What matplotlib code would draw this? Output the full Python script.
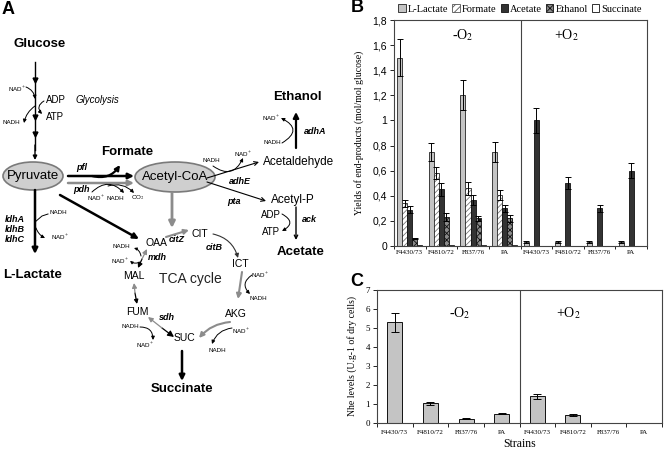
import numpy as np
import matplotlib
matplotlib.use("Agg")
import matplotlib.pyplot as plt
from matplotlib.patches import Ellipse, Patch

plt.rcParams['font.family'] = ['Liberation Serif', 'DejaVu Serif']
plt.rcParams['mathtext.fontset'] = 'stix'
plt.rcParams['hatch.linewidth'] = 0.6

SANS = 'Liberation Sans'

# ---- data (panel B: yields, panel C: Nhe levels) ----
strains = ["F4430/73", "F4810/72", "F837/76", "PA"] * 2
products = ["L-Lactate", "Formate", "Acetate", "Ethanol", "Succinate"]

lactate = [1.50, 0.75, 1.20, 0.75, 0.03, 0.03, 0.03, 0.03]
lactate_err = [0.15, 0.07, 0.12, 0.08, 0.006, 0.006, 0.006, 0.006]
formate = [0.34, 0.58, 0.46, 0.41, 0, 0, 0, 0]
formate_err = [0.03, 0.05, 0.05, 0.04, 0, 0, 0, 0]
acetate = [0.29, 0.45, 0.37, 0.30, 1.00, 0.50, 0.30, 0.60]
acetate_err = [0.03, 0.05, 0.04, 0.03, 0.10, 0.05, 0.03, 0.06]
ethanol = [0.06, 0.23, 0.22, 0.22, 0, 0, 0, 0]
ethanol_err = [0.005, 0.03, 0.02, 0.03, 0, 0, 0, 0]
succinate = [0.005, 0.005, 0.005, 0.005, 0, 0, 0, 0]

nhe = [5.3, 1.05, 0.22, 0.5, 1.4, 0.42, 0, 0]
nhe_err = [0.5, 0.08, 0.03, 0.04, 0.13, 0.04, 0, 0]

fig = plt.figure(figsize=(6.64, 4.51), dpi=100)

# ---------------- panel A: pathway diagram (pixel coords) ----------------
axA = fig.add_axes([0, 0, 1, 1])
axA.set_xlim(0, 664)
axA.set_ylim(451, 0)
axA.axis('off')

GRAY = '#8c8c8c'


def txt(x, y, s, size=7, weight='normal', style='normal', ha='center', color='black'):
    axA.text(x, y, s, fontsize=size, fontweight=weight, fontstyle=style, ha=ha,
             va='center', family=SANS, color=color)


def arr(x1, y1, x2, y2, color='black', lw=1.0, head='-|>', rad=0.0, ms=7):
    axA.annotate('', xy=(x2, y2), xytext=(x1, y1),
                 arrowprops=dict(arrowstyle=head, color=color, lw=lw, mutation_scale=ms,
                                 shrinkA=0, shrinkB=0,
                                 connectionstyle=f'arc3,rad={rad}'))


txt(8, 10, 'A', size=13, weight='bold')
txt(40, 44, 'Glucose', size=9.5, weight='bold')

# glycolysis
axA.plot([35, 35], [62, 150], color='black', lw=1.0)
axA.plot([35, 35, 35], [80, 117, 134], ls='none', marker='v', ms=3.5, color='black')
arr(35, 145, 35, 160, lw=1.0, ms=6)
txt(17, 89, 'NAD$^+$', size=4.5)
arr(26, 87, 35, 99, rad=-0.3, lw=0.7, ms=5)
txt(11, 123, 'NADH', size=4.5)
arr(35, 106, 24, 123, rad=0.2, lw=0.7, ms=5)
txt(46, 100, 'ADP', size=7, ha='left')
txt(46, 117, 'ATP', size=7, ha='left')
arr(44, 101, 42, 114, rad=0.6, lw=0.7, ms=5)
txt(97, 100, 'Glycolysis', size=7, style='italic')

# pyruvate & acetyl-CoA
axA.add_patch(Ellipse((33, 176), 60, 28, facecolor='#cfcfcf', edgecolor='#7a7a7a', lw=1.2))
txt(33, 176, 'Pyruvate', size=9.5)
axA.add_patch(Ellipse((175, 177), 80, 30, facecolor='#cfcfcf', edgecolor='#7a7a7a', lw=1.2))
txt(175, 177, 'Acetyl-CoA', size=9.5)

txt(127, 152, 'Formate', size=9.5, weight='bold')
arr(68, 176, 134, 176, lw=1.8, ms=8)
arr(68, 183, 134, 183, color=GRAY, lw=1.8, ms=8)
arr(92, 176, 120, 165, rad=0.35, lw=1.6, ms=7)
txt(82, 168, 'pfl', size=6.5, weight='bold', style='italic')
txt(81, 190, 'pdh', size=6.5, weight='bold', style='italic')
arr(92, 192, 124, 193, rad=-0.5, lw=0.7, ms=5)
arr(108, 186, 134, 193, rad=-0.3, lw=0.7, ms=5)
txt(96, 198, 'NAD$^+$', size=4.5)
txt(115, 198, 'NADH', size=4.5)
txt(138, 198, 'CO$_2$', size=4.5)

# ethanol / acetaldehyde
txt(211, 161, 'NADH', size=4.5)
txt(243, 154, 'NAD$^+$', size=4.5)
arr(207, 178, 259, 162, head='->', lw=0.8, ms=7)
arr(213, 166, 243, 158, rad=0.6, lw=0.7, ms=5)
txt(240, 181, 'adhE', size=6.5, weight='bold', style='italic')
txt(263, 162, 'Acetaldehyde', size=8.5, ha='left')
txt(297, 97, 'Ethanol', size=9.5, weight='bold')
arr(296, 148, 296, 112, lw=1.6, ms=8)
txt(271, 118, 'NAD$^+$', size=4.5)
txt(272, 143, 'NADH', size=4.5)
arr(282, 143, 281, 118, rad=0.9, lw=0.7, ms=5)
txt(315, 131, 'adhA', size=6.5, weight='bold', style='italic')

# acetyl-P / acetate
arr(207, 182, 266, 201, head='->', lw=0.8, ms=7)
txt(234, 201, 'pta', size=6.5, weight='bold', style='italic')
txt(271, 200, 'Acetyl-P', size=8.5, ha='left')
txt(271, 215, 'ADP', size=7)
txt(271, 232, 'ATP', size=7)
arr(296, 207, 296, 240, head='->', lw=1.0, ms=6)
arr(282, 214, 282, 231, rad=-0.9, lw=0.7, ms=5)
txt(309, 220, 'ack', size=6.5, weight='bold', style='italic')
txt(301, 252, 'Acetate', size=9.5, weight='bold')

# L-lactate
arr(35, 190, 35, 254, lw=1.8, ms=8)
for yy, g in zip([220, 229.5, 239], ['ldhA', 'ldhB', 'ldhC']):
    txt(5, yy, g, size=6.5, weight='bold', style='italic', ha='left')
axA.plot([35, 42, 48], [222, 216, 214], color='black', lw=0.7)
txt(58, 213, 'NADH', size=4.5)
arr(36, 228, 45, 238, rad=0.2, lw=0.7, ms=5)
txt(60, 237, 'NAD$^+$', size=4.5)
txt(33, 275, 'L-Lactate', size=9.5, weight='bold')

# pyruvate -> OAA
arr(60, 195, 139, 239, lw=1.8, ms=8)

# TCA cycle
arr(172, 193, 172, 228, color=GRAY, lw=2.0, ms=9)
arr(166, 237, 189, 230, color=GRAY, lw=1.5, ms=7)
txt(177, 240, 'citZ', size=6.5, weight='bold', style='italic')
txt(200, 234, 'CIT', size=7.5)
txt(156, 243, 'OAA', size=7.5)
arr(213, 234, 238, 258, color='#333333', rad=-0.3, lw=0.8, ms=6)
txt(214, 247, 'citB', size=6.5, weight='bold', style='italic')
txt(240, 264, 'ICT', size=7.5)
arr(242, 272, 238, 299, color=GRAY, lw=1.5, ms=7)
txt(260, 275, 'NAD$^+$', size=4.5)
txt(258, 298, 'NADH', size=4.5)
arr(252, 275, 250, 294, rad=0.6, lw=0.7, ms=5)
txt(236, 314, 'AKG', size=7.5)
arr(230, 322, 199, 338, color=GRAY, rad=0.2, lw=1.5, ms=7)
txt(241, 331, 'NAD$^+$', size=4.5)
txt(217, 350, 'NADH', size=4.5)
arr(232, 328, 212, 344, rad=0.3, lw=0.7, ms=5)
txt(184, 338, 'SUC', size=7.5)
arr(182, 351, 182, 381, lw=1.8, ms=8)
txt(182, 389, 'Succinate', size=9.5, weight='bold')

# SUC <-> FUM
arr(162, 328, 174, 337, lw=0.9, ms=9)
arr(162, 328, 148, 317, color=GRAY, lw=0.9, ms=7)
txt(167, 318, 'sdh', size=6.5, weight='bold', style='italic')
txt(137, 312, 'FUM', size=7.5)
txt(130, 327, 'NADH', size=4.5)
txt(145, 345, 'NAD$^+$', size=4.5)
arr(140, 327, 153, 340, rad=-0.5, lw=0.7, ms=5)

# FUM <-> MAL
arr(135, 293, 137, 304, lw=0.9, ms=6)
arr(135, 293, 134, 283, color=GRAY, lw=0.9, ms=7)
txt(134, 276, 'MAL', size=7.5)

# MAL <-> OAA
arr(142, 259, 138, 268, lw=0.9, ms=7)
arr(142, 259, 147, 249, color=GRAY, lw=0.9, ms=7)
txt(157, 257, 'mdh', size=6.5, weight='bold', style='italic')
txt(121, 247, 'NADH', size=4.5)
txt(120, 261, 'NAD$^+$', size=4.5)
arr(141, 256, 134, 248, rad=0.3, lw=0.7, ms=4)
arr(140, 262, 130, 261, rad=-0.3, lw=0.7, ms=4)
txt(190, 279, 'TCA cycle', size=10, color='#222222')

# ---------------- panel B: yields ----------------
x = np.arange(len(strains))
w = 0.16
axB = fig.add_axes([394 / 664, 1 - 246 / 451, 253 / 664, 226 / 451])

series = [lactate, formate, acetate, ethanol, succinate]
errs = [lactate_err, formate_err, acetate_err, ethanol_err, None]
for i, (vals, err) in enumerate(zip(series, errs)):
    pos = x + 0.5 + (i - 2) * w
    if i == 0:
        axB.bar(pos, vals, w, color='#c4c4c4', edgecolor='#222222', lw=0.6)
    elif i == 1:
        axB.bar(pos, vals, w, color='white', edgecolor='#777777', hatch='//////', lw=0)
        axB.bar(pos, vals, w, color='none', edgecolor='#222222', lw=0.6)
    elif i == 2:
        axB.bar(pos, vals, w, color='#333333', edgecolor='#111111', lw=0.6)
    elif i == 3:
        axB.bar(pos, vals, w, color='#8a8a8a', edgecolor='#111111', hatch='xxxxx', lw=0.6)
    else:
        axB.bar(pos, vals, w, color='white', edgecolor='#111111', lw=0.6)
    if err is not None:
        keep = [j for j in range(len(vals)) if vals[j] > 0]
        axB.errorbar(pos[keep], np.array(vals)[keep], yerr=np.array(err)[keep], fmt='none',
                     ecolor='black', elinewidth=0.7, capsize=2.5, capthick=0.7)

axB.axvline(4, color='#444444', lw=0.8)
axB.set_xlim(0, 8)
axB.set_ylim(0, 1.8)
yt = np.round(np.arange(0, 1.81, 0.2), 1)
axB.set_yticks(yt)
axB.set_yticklabels([f"{v:g}".replace('.', ',') for v in yt], family=SANS, fontsize=7.5)
axB.set_xticks(np.arange(9))
axB.set_xticklabels([])
axB.set_xticks(x + 0.5, minor=True)
axB.set_xticklabels(strains, minor=True, fontsize=5)
axB.tick_params(axis='x', which='major', length=2, width=0.6)
axB.tick_params(axis='x', which='minor', length=0, pad=3)
axB.tick_params(axis='y', length=3, width=0.6, pad=2)
for sp in axB.spines.values():
    sp.set_color('#444444')
    sp.set_linewidth(0.8)
axB.set_ylabel('Yields of end-products (mol/mol glucose)', fontsize=7, labelpad=6)
axB.text(0.27, 0.935, '-O$_2$', transform=axB.transAxes, fontsize=10, ha='center', va='center')
axB.text(0.68, 0.935, '+O$_2$', transform=axB.transAxes, fontsize=10, ha='center', va='center')

handles = [Patch(facecolor='#c4c4c4', edgecolor='#222222', lw=0.6),
           Patch(facecolor='white', edgecolor='#555555', hatch='/////', lw=0.6),
           Patch(facecolor='#333333', edgecolor='#111111', lw=0.6),
           Patch(facecolor='#8a8a8a', edgecolor='#111111', hatch='xxxx', lw=0.6),
           Patch(facecolor='white', edgecolor='#111111', lw=0.6)]
fig.legend(handles, products, loc='center', bbox_to_anchor=(520 / 664, 1 - 9 / 451), ncol=5,
           frameon=False, fontsize=7.5, handlelength=0.7, handleheight=0.7, handletextpad=0.2,
           columnspacing=0.4, borderaxespad=0, borderpad=0)

fig.text(357 / 664, 1 - 8 / 451, 'B', fontsize=13, fontweight='bold', family=SANS,
         ha='center', va='center')

# ---------------- panel C: Nhe levels ----------------
axC = fig.add_axes([377 / 664, 1 - 423 / 451, 285 / 664, 133 / 451])
axC.bar(x + 0.5, nhe, 0.42, color='#c4c4c4', edgecolor='#111111', lw=0.7)
keep = [j for j in range(len(nhe)) if nhe[j] > 0]
axC.errorbar((x + 0.5)[keep], np.array(nhe)[keep], yerr=np.array(nhe_err)[keep], fmt='none',
             ecolor='black', elinewidth=0.7, capsize=3, capthick=0.7)
axC.axvline(4, color='#444444', lw=0.8)
axC.set_xlim(0, 8)
axC.set_ylim(0, 7)
axC.set_yticks(range(8))
axC.tick_params(axis='y', labelsize=6.5, length=3, width=0.6, pad=2)
axC.set_xticks(np.arange(9))
axC.set_xticklabels([])
axC.set_xticks(x + 0.5, minor=True)
axC.set_xticklabels(strains, minor=True, fontsize=5)
axC.tick_params(axis='x', which='major', length=3, width=0.6)
axC.tick_params(axis='x', which='minor', length=0, pad=5)
for sp in axC.spines.values():
    sp.set_color('#444444')
    sp.set_linewidth(0.8)
axC.set_ylabel('Nhe levels (U.g-1 of dry cells)', fontsize=7, labelpad=6)
axC.set_xlabel('Strains', fontsize=8.5, labelpad=2)
axC.text(0.29, 0.83, '-O$_2$', transform=axC.transAxes, fontsize=10, ha='center', va='center')
axC.text(0.67, 0.83, '+O$_2$', transform=axC.transAxes, fontsize=10, ha='center', va='center')
fig.text(357 / 664, 1 - 281 / 451, 'C', fontsize=13, fontweight='bold', family=SANS,
         ha='center', va='center')

fig.savefig('out.png', dpi=100)
